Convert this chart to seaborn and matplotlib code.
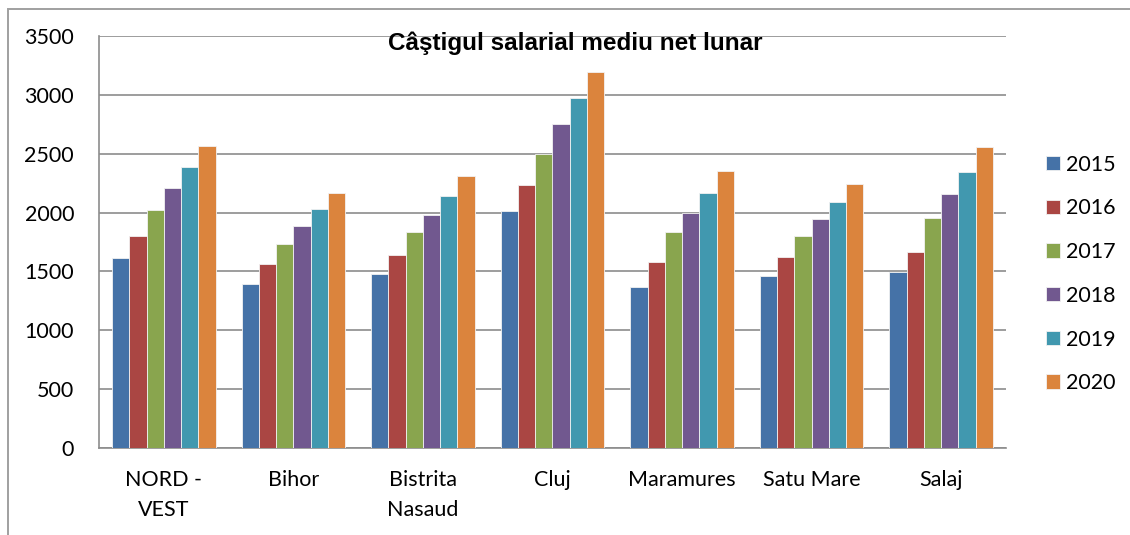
import numpy as np
import pandas as pd
import matplotlib.pyplot as plt
import matplotlib.patches as patches
import seaborn as sns

regiuni = ['NORD -\nVEST', 'Bihor', 'Bistrita\nNasaud', 'Cluj', 'Maramures', 'Satu Mare', 'Salaj']
ani = ['2015', '2016', '2017', '2018', '2019', '2020']

v2015 = [1615, 1392, 1477, 2017, 1369, 1459, 1491]
v2016 = [1802, 1567, 1637, 2233, 1584, 1619, 1669]
v2017 = [2020, 1730, 1831, 2497, 1831, 1799, 1951]
v2018 = [2212, 1884, 1983, 2750, 2000, 1948, 2157]
v2019 = [2390, 2029, 2145, 2974, 2169, 2090, 2343]
v2020 = [2567, 2169, 2308, 3192, 2349, 2244, 2558]

culori = ['#4572A7', '#AA4643', '#89A54E', '#71588F', '#4198AF', '#DB843D']

def construieste_tabel():
    """Pune seriile in format lung pentru seaborn."""
    serii = [v2015, v2016, v2017, v2018, v2019, v2020]
    randuri = []
    for an, valori in zip(ani, serii):
        for regiune, val in zip(regiuni, valori):
            randuri.append({'regiune': regiune, 'an': an, 'valoare': val})
    return pd.DataFrame(randuri)

def main():
    sns.set_style('white')
    plt.rcParams['font.family'] = ['Lato', 'DejaVu Sans']
    plt.rcParams['text.color'] = 'black'

    date = construieste_tabel()

    fig = plt.figure(figsize=(11.3, 5.35), dpi=100)
    ax = fig.add_axes([99 / 1130, 1 - 448 / 535, (1006 - 99) / 1130, (448 - 36) / 535])

    sns.barplot(data=date, x='regiune', y='valoare', hue='an', order=regiuni,
                hue_order=ani, palette=culori, saturation=1, width=0.8,
                edgecolor='#f2f2f2', linewidth=0.6, ax=ax, legend=True,
                errorbar=None, zorder=3)

    # axe si grila
    ax.set_ylim(0, 3500)
    ax.set_xlim(-0.5, 6.5)
    ax.set_yticks(np.arange(0, 3501, 500))
    ax.yaxis.grid(True, color='#8c8c8c', linewidth=1.2, zorder=0)
    ax.set_axisbelow(True)
    ax.set_xlabel('')
    ax.set_ylabel('')
    for s in ['top', 'right']:
        ax.spines[s].set_visible(False)
    for s in ['left', 'bottom']:
        ax.spines[s].set_color('#8c8c8c')
        ax.spines[s].set_linewidth(1.2)

    ax.tick_params(axis='y', length=9, width=1.2, color='#8c8c8c', pad=9,
                   labelsize=15.5, labelcolor='black')
    ax.set_xticks(np.arange(-0.5, 7, 1), minor=True)
    ax.tick_params(axis='x', which='minor', length=6, width=1.2, color='#8c8c8c')
    ax.tick_params(axis='x', which='major', length=0, pad=16, labelsize=15.5,
                   labelcolor='black')
    for t in ax.get_xticklabels():
        t.set_linespacing(1.6)
        t.set_verticalalignment('top')

    # legenda in dreapta
    ax.get_legend().remove()
    h, l = ax.get_legend_handles_labels()
    fig.legend(h, l, loc='center left', bbox_to_anchor=(1046 / 1130, 1 - 274 / 535),
               frameon=False, fontsize=15.5, borderpad=0, borderaxespad=0,
               handlelength=0.65, handleheight=0.65, handletextpad=0.3,
               labelspacing=1.1, labelcolor='black')

    fig.text(575 / 1130, 1 - 50 / 535, 'Câştigul salarial mediu net lunar',
             ha='center', va='baseline', fontsize=17.5, fontweight='bold',
             color='black', family=['Liberation Sans', 'DejaVu Sans'])

    # chenarul graficului
    chenar = patches.Rectangle((8 / 1130, -0.05), 1.2, 1 - 9 / 535 + 0.05,
                               transform=fig.transFigure, fill=False,
                               edgecolor='#a0a0a0', linewidth=1.4, clip_on=False)
    fig.patches.append(chenar)

    fig.savefig('out.png', dpi=100)

if __name__ == "__main__":
    main()
